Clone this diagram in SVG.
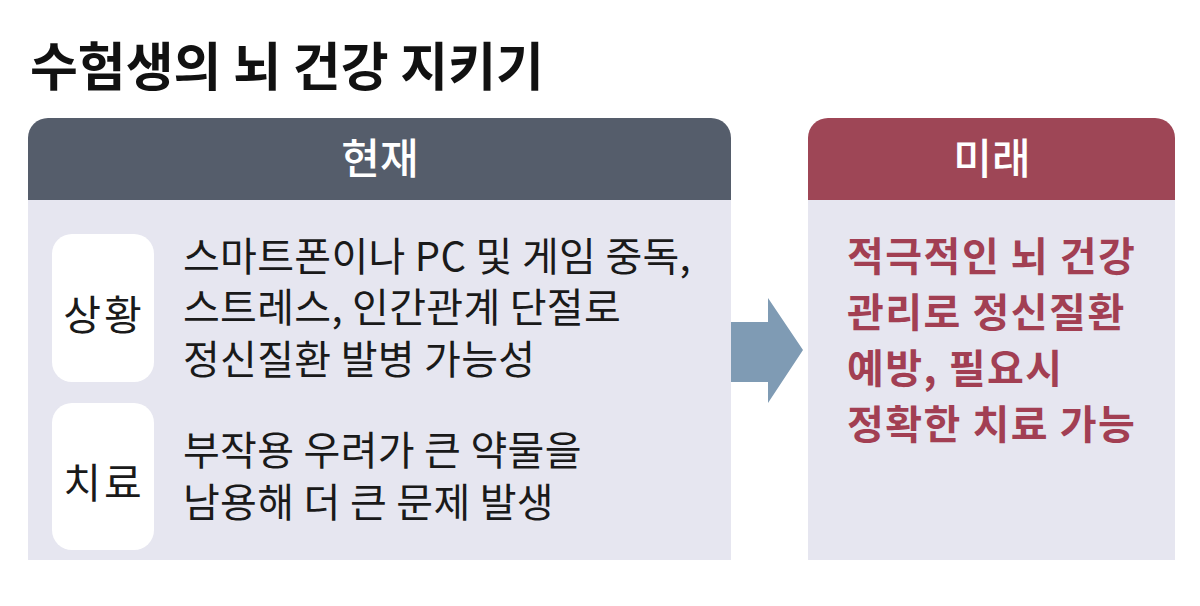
<svg xmlns="http://www.w3.org/2000/svg" width="1200" height="606" viewBox="0 0 1200 606">
  <style>
    .t { font-family: "Noto Sans CJK KR", "Noto Sans", sans-serif; }
    .title { font-size: 52px; font-weight: 700; fill: #111111; letter-spacing: 0px; }
    .hdr { font-size: 42px; font-weight: 500; fill: #ffffff; text-anchor: middle; }
    .body { font-size: 40px; fill: #1a1a1a; letter-spacing: 0.3px; }
    .lab { font-size: 41px; fill: #1a1a1a; text-anchor: middle; letter-spacing: 3px; }
    .red { font-size: 40px; font-weight: 700; fill: #a23f53; letter-spacing: 1.5px; }
    .panel { fill: #e6e6f0; }
    .labbox { fill: #ffffff; }
  </style>
  <rect width="1200" height="606" fill="#ffffff"/>
  <g id="title">
    <text class="t title" x="30" y="86">수험생의 뇌 건강 지키기</text>
  </g>
  <g id="present">
    <rect class="panel" x="28" y="199" width="703" height="361"/>
    <path d="M28 200 V138 A20 20 0 0 1 48 118 H711 A20 20 0 0 1 731 138 V200 Z" fill="#555d6b"/>
    <text class="t hdr" x="380" y="174">현재</text>
  </g>
  <g id="situation">
    <rect class="labbox" x="52" y="234" width="102" height="148" rx="20"/>
    <text class="t lab" x="104" y="330">상황</text>
    <text class="t body" x="183" y="271">스마트폰이나 PC 및 게임 중독,</text>
    <text class="t body" x="183" y="322">스트레스, 인간관계 단절로</text>
    <text class="t body" x="183" y="374">정신질환 발병 가능성</text>
  </g>
  <g id="treatment">
    <rect class="labbox" x="52" y="403" width="102" height="147" rx="20"/>
    <text class="t lab" x="104" y="498">치료</text>
    <text class="t body" x="183" y="465">부작용 우려가 큰 약물을</text>
    <text class="t body" x="183" y="517">남용해 더 큰 문제 발생</text>
  </g>
  <g id="future">
    <rect class="panel" x="808" y="199" width="367" height="361"/>
    <path d="M808 200 V138 A20 20 0 0 1 828 118 H1155 A20 20 0 0 1 1175 138 V200 Z" fill="#9e4656"/>
    <text class="t hdr" x="992" y="174">미래</text>
    <text class="t red" x="847" y="271">적극적인 뇌 건강</text>
    <text class="t red" x="847" y="327">관리로 정신질환</text>
    <text class="t red" x="847" y="383">예방, 필요시</text>
    <text class="t red" x="847" y="439">정확한 치료 가능</text>
  </g>
  <g id="connectors">
    <path d="M731 322 H768 V298 L803 350 L768 403 V382 H731 Z" fill="#7f9bb4"/>
  </g>
</svg>
